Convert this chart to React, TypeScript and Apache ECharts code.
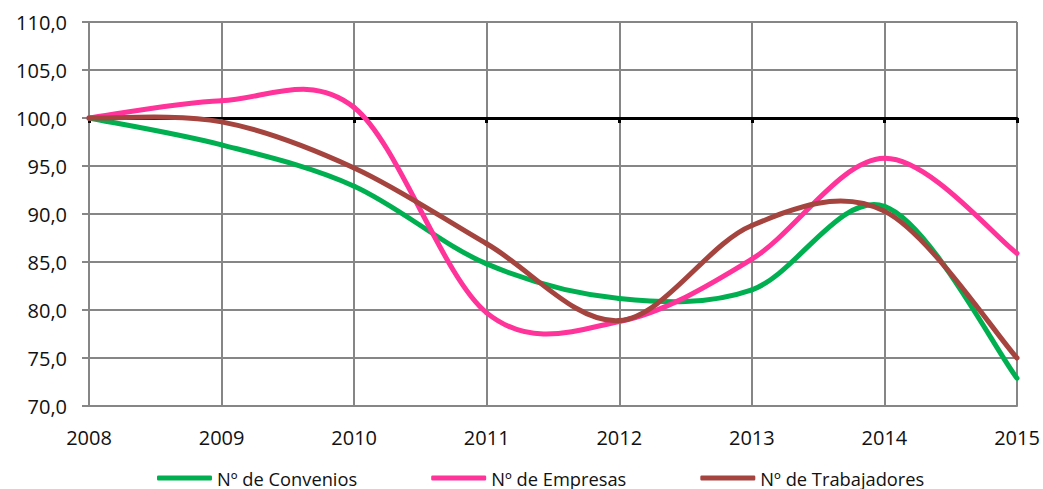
import React, { useEffect, useRef } from "react";
import * as echarts from "echarts";

const years = ["2008", "2009", "2010", "2011", "2012", "2013", "2014", "2015"];
const convenios = [100, 97.2, 92.9, 84.8, 81.2, 82.1, 90.8, 72.9];
const empresas = [100, 101.8, 101.1, 79.7, 78.8, 85.3, 95.8, 85.9];
const trabajadores = [100, 99.6, 94.8, 86.9, 78.9, 88.8, 90.3, 75.0];
const seriesNames = ["Nº de Convenios", "Nº de Empresas", "Nº de Trabajadores"];
const yMin = 70;
const yMax = 110;
const yStep = 5;

const FONT = "'Open Sans', sans-serif";

export default function App() {
  const ref = useRef<HTMLDivElement>(null);
  useEffect(() => {
    document.body.style.margin = "0";
    const chart = echarts.init(ref.current!, null, { renderer: "svg" });
    const gray = "#868686";

    // Catmull-Rom style smoothed segment (like a spreadsheet "smoothed line")
    const mk = (name: string, values: number[], color: string) => ({
      name,
      type: "custom",
      data: values.map((v, i) => [i, v]),
      encode: { x: 0, y: 1 },
      itemStyle: { color },
      z: 5,
      clip: false,
      renderItem: (params: any, api: any) => {
        const i = params.dataIndex;
        if (i >= values.length - 1) return null;
        const p = (k: number) => {
          const kk = Math.max(0, Math.min(values.length - 1, k));
          return api.coord([kk, values[kk]]);
        };
        const p0 = p(i - 1);
        const p1 = p(i);
        const p2 = p(i + 1);
        const p3 = p(i + 2);
        const c1 = [p1[0] + (p2[0] - p0[0]) / 6, p1[1] + (p2[1] - p0[1]) / 6];
        const c2 = [p2[0] - (p3[0] - p1[0]) / 6, p2[1] - (p3[1] - p1[1]) / 6];
        return {
          type: "bezierCurve",
          shape: {
            x1: p1[0],
            y1: p1[1],
            cpx1: c1[0],
            cpy1: c1[1],
            cpx2: c2[0],
            cpy2: c2[1],
            x2: p2[0],
            y2: p2[1],
          },
          style: { stroke: color, lineWidth: 5, fill: null, lineCap: "round" },
        };
      },
    });

    chart.setOption({
      animation: false,
      backgroundColor: "#ffffff",
      textStyle: { fontFamily: FONT },
      grid: { left: 89, right: 26, top: 22, bottom: 83, containLabel: false },
      legend: {
        left: 157,
        top: 469,
        padding: 0,
        itemWidth: 55,
        itemHeight: 5,
        itemGap: 74,
        icon: "roundRect",
        textStyle: { fontFamily: FONT, fontSize: 18.3, color: "#111" },
        data: seriesNames,
      },
      xAxis: [
        {
          type: "category",
          data: years,
          boundaryGap: false,
          axisLine: { lineStyle: { color: gray, width: 2 } },
          axisTick: { show: false },
          axisLabel: { fontFamily: FONT, fontSize: 20, color: "#111", margin: 21 },
          splitLine: { show: true, lineStyle: { color: gray, width: 2 } },
        },
        {
          type: "category",
          data: years,
          boundaryGap: false,
          position: "bottom",
          offset: -288,
          axisLine: { lineStyle: { color: "#000", width: 3 } },
          axisTick: { show: true, length: 5, lineStyle: { color: "#000", width: 3 } },
          axisLabel: { show: false },
          splitLine: { show: false },
          z: 3,
        },
      ],
      yAxis: {
        type: "value",
        min: yMin,
        max: yMax,
        interval: yStep,
        axisLine: { show: true, lineStyle: { color: gray, width: 2 } },
        axisTick: { show: true, length: 7, lineStyle: { color: gray, width: 2 } },
        axisLabel: {
          fontFamily: FONT,
          fontSize: 20,
          color: "#111",
          margin: 22,
          formatter: (v: number) => v.toFixed(1).replace(".", ","),
        },
        splitLine: { show: true, lineStyle: { color: gray, width: 2 } },
      },
      series: [
        mk(seriesNames[0], convenios, "#00B050"),
        mk(seriesNames[1], empresas, "#FF3399"),
        mk(seriesNames[2], trabajadores, "#A5433F"),
      ],
    });
    return () => chart.dispose();
  }, []);
  return <div ref={ref} style={{ width: 1043, height: 489 }} />;
}
